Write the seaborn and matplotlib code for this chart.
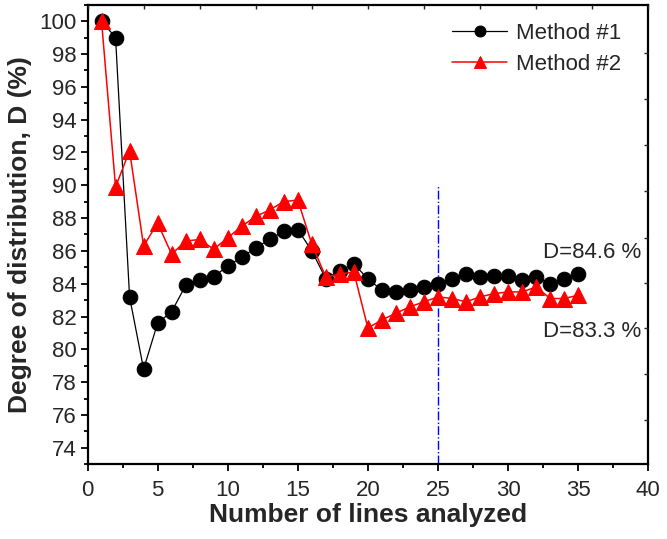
import matplotlib
matplotlib.use("Agg")
import matplotlib.pyplot as plt
import seaborn as sns
import numpy as np
import pandas as pd
from matplotlib.ticker import MultipleLocator

lines = list(range(1, 36))
method1 = [100.0, 99.0, 83.2, 78.8, 81.6, 82.3, 83.9, 84.2, 84.4, 85.1,
           85.6, 86.2, 86.7, 87.2, 87.3, 86.0, 84.3, 84.8, 85.2, 84.3,
           83.6, 83.5, 83.6, 83.8, 84.0, 84.3, 84.6, 84.4, 84.5, 84.5,
           84.2, 84.4, 84.0, 84.3, 84.6]
method2 = [100.0, 89.9, 92.1, 86.3, 87.7, 85.8, 86.6, 86.7, 86.1, 86.8,
           87.5, 88.1, 88.5, 89.0, 89.1, 86.4, 84.4, 84.6, 84.7, 81.3,
           81.8, 82.2, 82.6, 82.9, 83.2, 83.1, 82.9, 83.2, 83.4, 83.5,
           83.5, 83.8, 83.1, 83.1, 83.3]
series_names = ["Method #1", "Method #2"]
annotations = ["D=84.6 %", "D=83.3 %"]

sns.set_theme(style="white")
plt.rcParams['font.family'] = ['Liberation Sans', 'DejaVu Sans']

fig = plt.figure(figsize=(6.67, 5.39), dpi=100)
ax = fig.add_axes([0.1312, 0.1386, 0.9720 - 0.1312, 0.9913 - 0.1386])

df1 = pd.DataFrame({"x": lines, "y": method1})
df2 = pd.DataFrame({"x": lines, "y": method2})
sns.lineplot(data=df1, x="x", y="y", ax=ax, color="black", marker="o",
             markersize=10.5, linewidth=0.9, markeredgecolor="black",
             label=series_names[0])
sns.lineplot(data=df2, x="x", y="y", ax=ax, color="red", marker="^",
             markersize=11, linewidth=1.1, markeredgecolor="red",
             label=series_names[1])

ax.plot([25, 25], [73, 90], color="blue", linestyle="-.", linewidth=1.0, zorder=1)

ax.text(32.5, 85.9, annotations[0], fontsize=16, va="center", ha="left")
ax.text(32.5, 81.06, annotations[1], fontsize=16, va="center", ha="left")

ax.set_xlim(0, 40)
ax.set_ylim(73, 101)
ax.xaxis.set_major_locator(MultipleLocator(5))
ax.xaxis.set_minor_locator(MultipleLocator(2.5))
ax.set_yticks(np.arange(74, 101, 2))
ax.yaxis.set_minor_locator(MultipleLocator(1))
ax.tick_params(axis="both", which="major", direction="out", length=5, width=1.3,
               labelsize=16, color="black", bottom=True, left=True)
ax.tick_params(axis="x", which="major", pad=6)
ax.tick_params(axis="y", which="major", pad=3)
ax.tick_params(axis="both", which="minor", direction="out", length=3, width=1.3,
               color="black", bottom=True, left=True)
for s in ax.spines.values():
    s.set_color("black")
    s.set_linewidth(1.6)

ax.set_xlabel("Number of lines analyzed", fontsize=19, fontweight="bold", labelpad=2)
ax.set_ylabel("Degree of distribution, D (%)", fontsize=19, fontweight="bold", labelpad=5)

# top / right inward ticks (secondary scales)
axt = ax.twiny()
axt.set_xlim(0, 40)
axt.set_xticks(np.arange(0, 41, 4))
axt.tick_params(axis="x", direction="in", length=3, width=1.0, labeltop=False, top=True)
axr = ax.twinx()
axr.set_ylim(73, 101)
axr.set_yticks([75.7, 78.5, 81.3, 84.05, 86.8, 89.65, 92.45, 95.25, 98.08])
axr.tick_params(axis="y", direction="in", length=3, width=1.0, labelright=False, right=True)
for a in (axt, axr):
    for s in a.spines.values():
        s.set_visible(False)
    a.grid(False)

leg = ax.legend(loc="upper right", frameon=False, fontsize=16, handlelength=2.5,
                markerscale=0.75, borderaxespad=0.3, labelspacing=0.45,
                handletextpad=0.4, bbox_to_anchor=(0.98, 0.995))

fig.savefig("out.png", dpi=100)
